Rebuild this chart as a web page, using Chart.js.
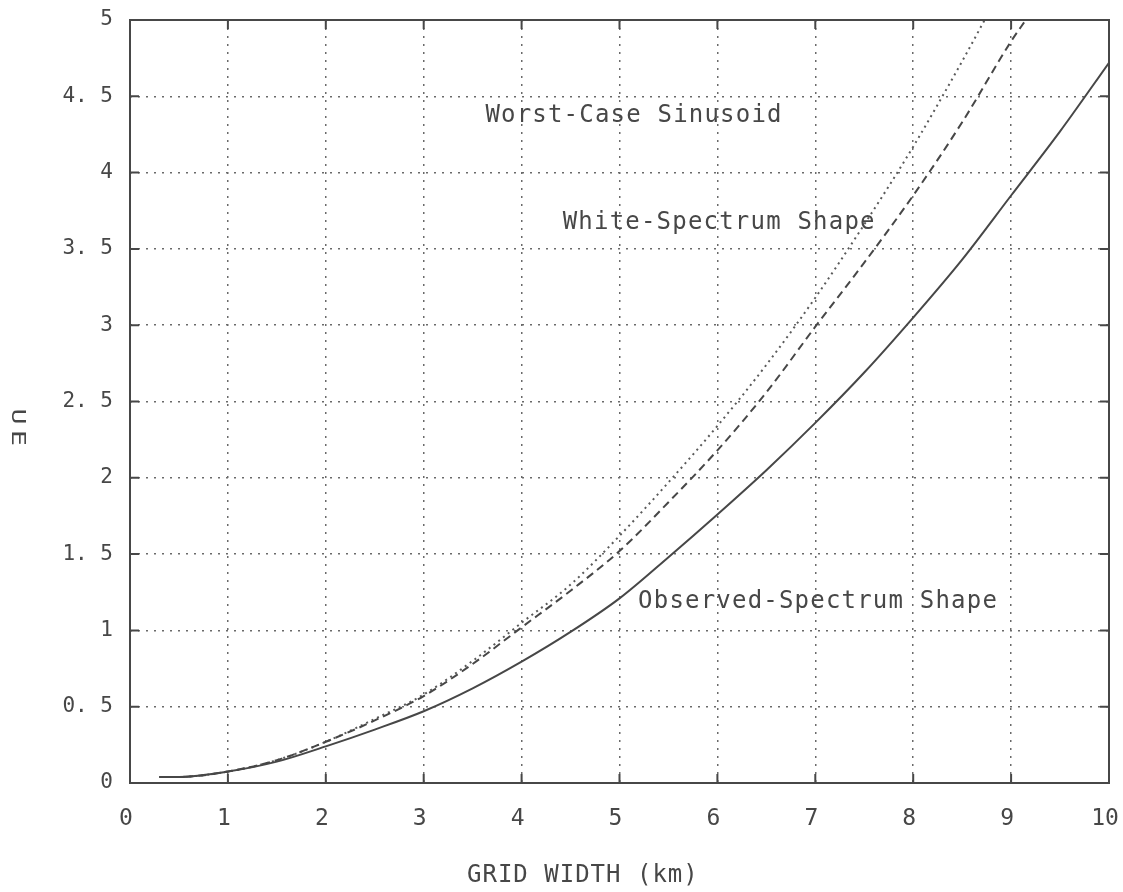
<!DOCTYPE html>
<html>
<head>
<meta charset="utf-8">
<script src="https://cdn.jsdelivr.net/npm/chart.js@4"></script>
<style>
  body { margin: 0; background: #fff; }
  canvas { display: block; }
</style>
</head>
<body>
<canvas id="myChart" width="1123" height="892"></canvas>
<script>
// values
const observedX = [0.3, 0.5, 1, 1.5, 2, 2.5, 3, 3.5, 4, 4.5, 5, 5.5, 6, 6.5, 7, 7.5, 8, 8.5, 9, 9.5, 10];
const observedY = [0.04, 0.04, 0.075, 0.14, 0.24, 0.35, 0.47, 0.62, 0.795, 0.99, 1.21, 1.48, 1.76, 2.05, 2.36, 2.69, 3.05, 3.43, 3.85, 4.27, 4.72];

const whiteX = [0.3, 0.5, 1, 1.5, 2, 2.5, 3, 3.5, 4, 4.5, 5, 5.5, 6, 6.5, 7, 7.5, 8, 8.5, 9, 9.15];
const whiteY = [0.04, 0.04, 0.075, 0.15, 0.27, 0.41, 0.57, 0.78, 1.02, 1.26, 1.52, 1.84, 2.18, 2.56, 2.99, 3.41, 3.85, 4.33, 4.86, 5.0];

const worstX = [0.3, 0.5, 1, 1.5, 2, 2.5, 3, 3.5, 4, 4.5, 5, 5.5, 6, 6.5, 7, 7.5, 8, 8.5, 8.73];
const worstY = [0.04, 0.04, 0.075, 0.15, 0.27, 0.42, 0.58, 0.8, 1.05, 1.3, 1.62, 1.97, 2.34, 2.74, 3.18, 3.66, 4.17, 4.73, 5.0];

const xTickLabels = ['0', '1', '2', '3', '4', '5', '6', '7', '8', '9', '10'];
const yTickLabels = ['0', '0. 5', '1', '1. 5', '2', '2. 5', '3', '3. 5', '4', '4. 5', '5'];

const curveNames = ['Worst-Case Sinusoid', 'White-Spectrum Shape', 'Observed-Spectrum Shape'];
const xTitle = 'GRID WIDTH (km)';
const yTitle = 'UE';

const ink = '#474747';
const mono = '"DejaVu Sans Mono", monospace';

function pairUp(xs, ys) {
  return xs.map((x, i) => ({ x: x, y: ys[i] }));
}

// frame, inward ticks, titles and curve labels, done the plotter way
const plotterBits = {
  id: 'plotterBits',
  afterDraw(chart) {
    const ctx = chart.ctx;
    const area = chart.chartArea;
    const xs = chart.scales.x;
    const ys = chart.scales.y;
    ctx.save();

    ctx.strokeStyle = ink;
    ctx.lineWidth = 2;
    ctx.strokeRect(area.left, area.top, area.right - area.left, area.bottom - area.top);

    const tl = 9;
    ctx.beginPath();
    for (let v = 1; v < 10; v++) {
      const px = xs.getPixelForValue(v);
      ctx.moveTo(px, area.bottom); ctx.lineTo(px, area.bottom - tl);
      ctx.moveTo(px, area.top); ctx.lineTo(px, area.top + tl);
    }
    for (let v = 0.5; v < 5; v += 0.5) {
      const py = ys.getPixelForValue(v);
      ctx.moveTo(area.left, py); ctx.lineTo(area.left + tl, py);
      ctx.moveTo(area.right, py); ctx.lineTo(area.right - tl, py);
    }
    ctx.stroke();

    ctx.fillStyle = ink;
    ctx.font = '24px ' + mono;
    ctx.letterSpacing = '1.2px';
    ctx.textAlign = 'left';
    ctx.textBaseline = 'middle';
    ctx.fillText(curveNames[0], xs.getPixelForValue(3.63), ys.getPixelForValue(4.37));
    ctx.fillText(curveNames[1], xs.getPixelForValue(4.42), ys.getPixelForValue(3.67));
    ctx.fillText(curveNames[2], xs.getPixelForValue(5.19), ys.getPixelForValue(1.19));

    ctx.letterSpacing = '1px';
    ctx.fillText(xTitle, area.left + 337, area.bottom + 93);

    ctx.translate(17, 430);
    ctx.rotate(Math.PI / 2);
    ctx.scale(1.4, 1);
    ctx.font = '19px ' + mono;
    ctx.letterSpacing = '4px';
    ctx.textAlign = 'center';
    ctx.fillText(yTitle, 0, 0);
    ctx.restore();
  }
};

const ctx = document.getElementById('myChart');

const myChart = new Chart(ctx, {
  type: 'line',
  data: {
    datasets: [
      {
        label: curveNames[2],
        data: pairUp(observedX, observedY),
        borderColor: ink,
        borderWidth: 2
      },
      {
        label: curveNames[1],
        data: pairUp(whiteX, whiteY),
        borderColor: ink,
        borderWidth: 2,
        borderDash: [8, 5]
      },
      {
        label: curveNames[0],
        data: pairUp(worstX, worstY),
        borderColor: '#5a5a5a',
        borderWidth: 2,
        borderDash: [2, 4]
      }
    ]
  },
  options: {
    responsive: false,
    animation: false,
    events: [],
    layout: { padding: { top: 20, right: 14, left: 0, bottom: 0 } },
    elements: {
      point: { radius: 0 },
      line: { cubicInterpolationMode: 'monotone', fill: false }
    },
    plugins: {
      legend: { display: false },
      tooltip: { enabled: false }
    },
    scales: {
      x: {
        type: 'linear',
        min: 0,
        max: 10,
        afterFit: (scale) => {
          scale.height = 109;
          scale.paddingLeft = 0;
          scale.paddingRight = 0;
        },
        grid: { color: '#6a6a6a', lineWidth: 1.5, drawTicks: false },
        border: { display: false, dash: [2, 6] },
        ticks: {
          stepSize: 1,
          padding: 22,
          labelOffset: -4,
          color: ink,
          font: { family: mono, size: 23 },
          callback: (value, index) => xTickLabels[index]
        }
      },
      y: {
        min: 0,
        max: 5,
        afterFit: (scale) => {
          scale.width = 130;
          scale.paddingTop = 0;
          scale.paddingBottom = 0;
        },
        grid: { color: '#6a6a6a', lineWidth: 1.5, drawTicks: false },
        border: { display: false, dash: [2, 6] },
        ticks: {
          stepSize: 0.5,
          padding: 17,
          color: ink,
          font: { family: mono, size: 21 },
          callback: (value, index) => yTickLabels[index]
        }
      }
    }
  },
  plugins: [plotterBits]
});
</script>
</body>
</html>
